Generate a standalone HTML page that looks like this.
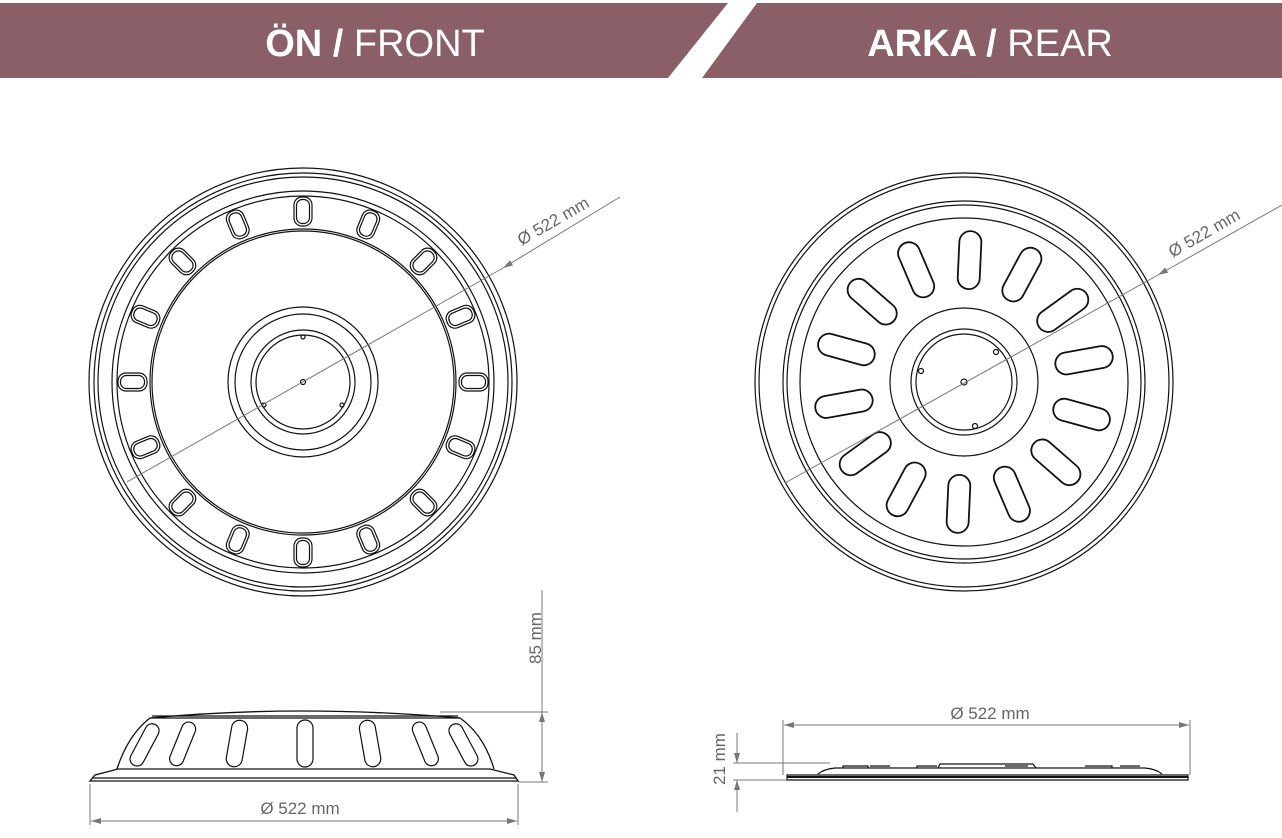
<!DOCTYPE html>
<html><head><meta charset="utf-8"><style>
html,body{margin:0;padding:0;background:#fff;width:1282px;height:838px;overflow:hidden}
svg{display:block}
text{font-family:"Liberation Sans",sans-serif}
</style></head><body>
<svg width="1282" height="838" viewBox="0 0 1282 838" xmlns="http://www.w3.org/2000/svg">
<defs>
<marker id="ar" viewBox="0 0 10 6" refX="10" refY="3" markerWidth="10" markerHeight="6" orient="auto-start-reverse" markerUnits="userSpaceOnUse"><path d="M0,0 L10,3 L0,6 z" fill="#777"/></marker>
<g id="rs"><rect x="-11" y="-151" width="22" height="58" rx="11"/></g>
<g id="fs">
<rect x="-9" y="-185" width="18" height="29" rx="8"/>
<rect x="-6.5" y="-182.5" width="13" height="24" rx="6"/>
</g>
</defs>
<!-- header -->
<polygon points="0,3 728,3 668,78 0,78" fill="#8a5f68"/>
<polygon points="757,3 1282,3 1282,78 702,78" fill="#8a5f68"/>
<text x="375" y="56" text-anchor="middle" fill="#fff" font-size="38"><tspan font-weight="bold">ÖN /</tspan> FRONT</text>
<text x="990" y="56" text-anchor="middle" fill="#fff" font-size="38"><tspan font-weight="bold">ARKA /</tspan> REAR</text>

<!-- FRONT circle -->
<g fill="none" stroke="#111" stroke-width="1.2" transform="translate(303,382)">
<circle r="214"/><circle r="209"/><circle r="205"/>
<circle r="191"/><circle r="186"/>
<circle r="153"/><circle r="151"/>
<circle r="75"/><circle r="68"/>
<circle r="52"/><circle r="47"/>
<circle r="2.5"/>
<circle cx="0" cy="-45" r="2"/><circle cx="-39" cy="23" r="2"/><circle cx="39" cy="23" r="2"/>
<use href="#fs"/>
<use href="#fs" transform="rotate(22.5)"/><use href="#fs" transform="rotate(45)"/><use href="#fs" transform="rotate(67.5)"/>
<use href="#fs" transform="rotate(90)"/><use href="#fs" transform="rotate(112.5)"/><use href="#fs" transform="rotate(135)"/>
<use href="#fs" transform="rotate(157.5)"/><use href="#fs" transform="rotate(180)"/><use href="#fs" transform="rotate(202.5)"/>
<use href="#fs" transform="rotate(225)"/><use href="#fs" transform="rotate(247.5)"/><use href="#fs" transform="rotate(270)"/>
<use href="#fs" transform="rotate(292.5)"/><use href="#fs" transform="rotate(315)"/><use href="#fs" transform="rotate(337.5)"/>
</g>
<line x1="127" y1="482" x2="503" y2="268" stroke="#777" stroke-width="1"/>
<line x1="620" y1="197" x2="503" y2="268" stroke="#777" stroke-width="1" marker-end="url(#ar)"/>
<text x="556" y="226" font-size="17" fill="#666" text-anchor="middle" transform="rotate(-30 556 226)">Ø 522 mm</text>

<!-- REAR circle -->
<g fill="none" stroke="#111" stroke-width="1.2" transform="translate(964,382)">
<circle r="209"/><circle r="205"/>
<circle r="181"/><circle r="177"/><circle r="164"/>
<circle r="74"/><circle r="53"/><circle r="48"/>
<circle r="3"/>
<circle cx="-43" cy="-11" r="2.5"/><circle cx="32" cy="-30" r="2.5"/><circle cx="11" cy="44" r="2.5"/>
<g transform="rotate(2.6)" stroke-width="1.8">
<use href="#rs"/>
<use href="#rs" transform="rotate(25.71)"/><use href="#rs" transform="rotate(51.43)"/><use href="#rs" transform="rotate(77.14)"/>
<use href="#rs" transform="rotate(102.86)"/><use href="#rs" transform="rotate(128.57)"/><use href="#rs" transform="rotate(154.29)"/>
<use href="#rs" transform="rotate(180)"/><use href="#rs" transform="rotate(205.71)"/><use href="#rs" transform="rotate(231.43)"/>
<use href="#rs" transform="rotate(257.14)"/><use href="#rs" transform="rotate(282.86)"/><use href="#rs" transform="rotate(308.57)"/>
<use href="#rs" transform="rotate(334.29)"/>
</g>
</g>
<line x1="785" y1="483" x2="1158" y2="275" stroke="#777" stroke-width="1"/>
<line x1="1282" y1="205" x2="1158" y2="275" stroke="#777" stroke-width="1" marker-end="url(#ar)"/>
<text x="1207" y="238" font-size="17" fill="#666" text-anchor="middle" transform="rotate(-30 1207 238)">Ø 522 mm</text>

<!-- FRONT side view -->
<g fill="none" stroke="#111" stroke-width="1.3">
<path d="M90,781 L518,781 L514,775 L490,769 L118,769 L95,775 Z"/>
<line x1="92" y1="778" x2="516" y2="778"/>
<path d="M117,769 Q128,735 150,718 L460,718 Q484,735 494,769"/>
<path d="M150,718 Q300,704 460,718"/>
<path d="M152,716 L458,716"/>
<g stroke-width="1.2">
<rect x="-7" y="-22" width="14" height="46" rx="7" transform="translate(145,744) rotate(28)"/>
<rect x="-7" y="-22" width="14" height="46" rx="7" transform="translate(183,743) rotate(22)"/>
<rect x="-8" y="-23" width="16" height="47" rx="8" transform="translate(237,743) rotate(10)"/>
<rect x="-8" y="-23" width="16" height="47" rx="8" transform="translate(305,743)"/>
<rect x="-8" y="-23" width="16" height="47" rx="8" transform="translate(370,743) rotate(-10)"/>
<rect x="-7" y="-22" width="14" height="46" rx="7" transform="translate(425,743) rotate(-22)"/>
<rect x="-7" y="-22" width="14" height="46" rx="7" transform="translate(463,744) rotate(-28)"/>
</g>
</g>
<g stroke="#777" stroke-width="1" fill="none">
<line x1="440" y1="712" x2="548" y2="712"/>
<line x1="518" y1="782" x2="548" y2="782"/>
<line x1="542" y1="590" x2="542" y2="712"/>
<line x1="542" y1="745" x2="542" y2="712" marker-end="url(#ar)"/>
<line x1="542" y1="745" x2="542" y2="782" marker-end="url(#ar)"/>
<line x1="90" y1="784" x2="90" y2="825"/>
<line x1="518" y1="784" x2="518" y2="825"/>
<line x1="304" y1="821" x2="91" y2="821" marker-end="url(#ar)"/>
<line x1="304" y1="821" x2="517" y2="821" marker-end="url(#ar)"/>
</g>
<text x="0" y="0" font-size="17" fill="#666" text-anchor="middle" transform="translate(541,638) rotate(-90)">85 mm</text>
<text x="300" y="814" font-size="17" fill="#666" text-anchor="middle">Ø 522 mm</text>

<!-- REAR side view -->
<g fill="none" stroke="#111" stroke-width="1.2">
<path d="M787,775 L1188,775 L1188,780 L787,780 Z"/>
<line x1="787" y1="777" x2="1188" y2="777" stroke-width="2"/>
<path d="M818,774 Q824,769 835,768 L1145,768 Q1156,769 1162,774"/>
<path d="M843,768 L843,766 L868,766 L868,768 M870,766 L890,766 M917,768 L917,766 L937,766 M938,768 L940,764 L1033,764 L1036,768 M1005,766 L1028,766 M1085,766 L1112,766 L1112,768 M1120,766 L1140,766"/>
</g>
<g stroke="#777" stroke-width="1" fill="none">
<line x1="783" y1="720" x2="783" y2="775"/>
<line x1="1190" y1="720" x2="1190" y2="775"/>
<line x1="986" y1="725" x2="784" y2="725" marker-end="url(#ar)"/>
<line x1="986" y1="725" x2="1189" y2="725" marker-end="url(#ar)"/>
<line x1="733" y1="763" x2="830" y2="763"/>
<line x1="733" y1="780" x2="787" y2="780"/>
<line x1="737" y1="733" x2="737" y2="763" marker-end="url(#ar)"/>
<line x1="737" y1="812" x2="737" y2="780" marker-end="url(#ar)"/>
</g>
<text x="990" y="719" font-size="17" fill="#666" text-anchor="middle">Ø 522 mm</text>
<text x="0" y="0" font-size="17" fill="#666" text-anchor="middle" transform="translate(725,759) rotate(-90)">21 mm</text>
</svg>
</body></html>
